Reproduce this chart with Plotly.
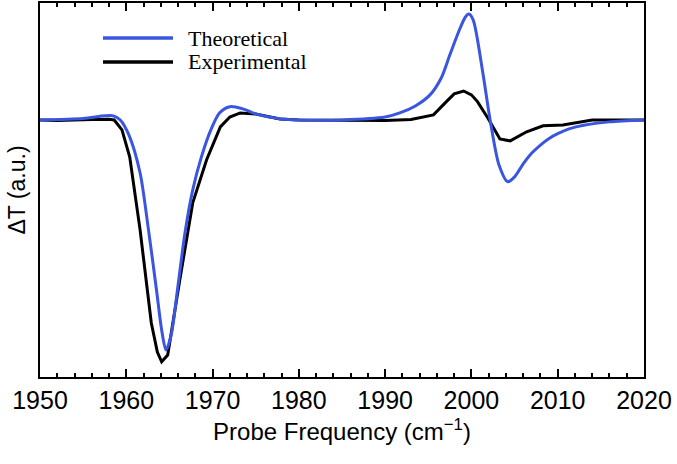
import plotly.graph_objects as go

# Experimental (black)
exp_x = [1950, 1952, 1956, 1958, 1958.6, 1959.5, 1960.4, 1961.6, 1962.9, 1963.6, 1964.1,
         1964.8, 1966.2, 1967.7, 1969.3, 1970.9, 1972.0, 1973.2, 1975.0, 1977.8, 1980,
         1985, 1990, 1993, 1995.6, 1997.1, 1998.0, 1999.1, 2000.0, 2000.7, 2001.9,
         2003.3, 2004.5, 2006.4, 2008.3, 2010.6, 2012.6, 2014, 2020]
exp_y = [0.0, -0.002, 0.002, 0.003, 0.0, -0.041, -0.154, -0.456, -0.842, -0.963, -1.003,
         -0.975, -0.664, -0.344, -0.166, -0.029, 0.012, 0.029, 0.025, 0.004, 0.0,
         -0.002, -0.002, 0.002, 0.021, 0.076, 0.108, 0.120, 0.104, 0.076, 0.008,
         -0.079, -0.087, -0.049, -0.024, -0.021, -0.007, 0.0, 0.0]

# Theoretical (blue)
th_x = [1950, 1955, 1957.5, 1958.5, 1959.3, 1960.3, 1961.6, 1962.5, 1963.5, 1964.1, 1964.6,
        1965.2, 1966.0, 1966.8, 1967.7, 1968.7, 1969.8, 1970.8, 1972.0, 1973.5, 1975,
        1978, 1980, 1985, 1990, 1991.7, 1993.5, 1995.2, 1996.5, 1997.5, 1998.6, 1999.3,
        1999.7, 2000.2, 2001.3, 2002.2, 2003.2, 2004.2, 2005.0, 2006.0, 2007.0, 2008.0,
        2009.0, 2010.0, 2011.4, 2013, 2016, 2020]
th_y = [0.0, 0.006, 0.017, 0.017, 0.0, -0.062, -0.22, -0.436, -0.705, -0.871, -0.954,
        -0.892, -0.685, -0.469, -0.290, -0.154, -0.041, 0.029, 0.055, 0.046, 0.025,
        0.004, 0.0, 0.0, 0.012, 0.029, 0.058, 0.104, 0.174, 0.270, 0.373, 0.427,
        0.439, 0.415, 0.200, -0.007, -0.187, -0.256, -0.236, -0.182, -0.137, -0.104,
        -0.077, -0.057, -0.036, -0.022, -0.008, 0.0]

x_ticks = [1950, 1960, 1970, 1980, 1990, 2000, 2010, 2020]
legend_names = ["Theoretical", "Experimental"]
blue = "#3a56e0"

L, R, T, B = 40, 644, 3, 377
W, H = 677, 464

def px(x):
    return (x - L) / (R - L)

def py(y):
    return (B - y) / (B - T)

fig = go.Figure()
fig.add_trace(go.Scatter(x=exp_x, y=exp_y, mode="lines", name=legend_names[1],
                         line=dict(color="black", width=3)))
fig.add_trace(go.Scatter(x=th_x, y=th_y, mode="lines", name=legend_names[0],
                         line=dict(color=blue, width=3, shape="spline", smoothing=0.8)))

# manual legend
for name, color, yy in [(legend_names[0], blue, 38), (legend_names[1], "black", 62)]:
    fig.add_shape(type="line", xref="paper", yref="paper", x0=px(103), x1=px(173),
                  y0=py(yy), y1=py(yy), line=dict(color=color, width=3.5))
    fig.add_annotation(xref="paper", yref="paper", x=px(186), y=py(yy), text=name,
                       showarrow=False, xanchor="left", yanchor="middle",
                       font=dict(family="Liberation Serif", size=22, color="black"))

fig.update_layout(
    width=W, height=H,
    margin=dict(l=L, r=W - R, t=T, b=H - B),
    plot_bgcolor="white", paper_bgcolor="white",
    showlegend=False,
    font=dict(family="Liberation Sans, Arial", color="black"),
    xaxis=dict(range=[1950, 2020], tickmode="array", tickvals=x_ticks,
               ticks="inside", ticklen=8, tickwidth=2, tickcolor="black",
               showline=True, linecolor="black", linewidth=2, mirror="allticks",
               showgrid=False, zeroline=False, tickfont=dict(size=25), automargin=False,
               minor=dict(tickmode="linear", tick0=1950, dtick=2, ticks="inside",
                          ticklen=4, tickwidth=1.5, tickcolor="black", showgrid=False),
               title=dict(text="Probe Frequency (cm<sup>\u22121</sup>)",
                          font=dict(size=24), standoff=10)),
    yaxis=dict(range=[-1.066, 0.485], showticklabels=False, ticks="",
               showline=True, linecolor="black", linewidth=2, mirror=True,
               showgrid=False, zeroline=False, automargin=False,
               title=dict(text="\u0394T (a.u.)", font=dict(size=23), standoff=6)),
)

fig.write_html("out.html", config={"displayModeBar": False},
               post_script="document.body.style.margin='0';")
